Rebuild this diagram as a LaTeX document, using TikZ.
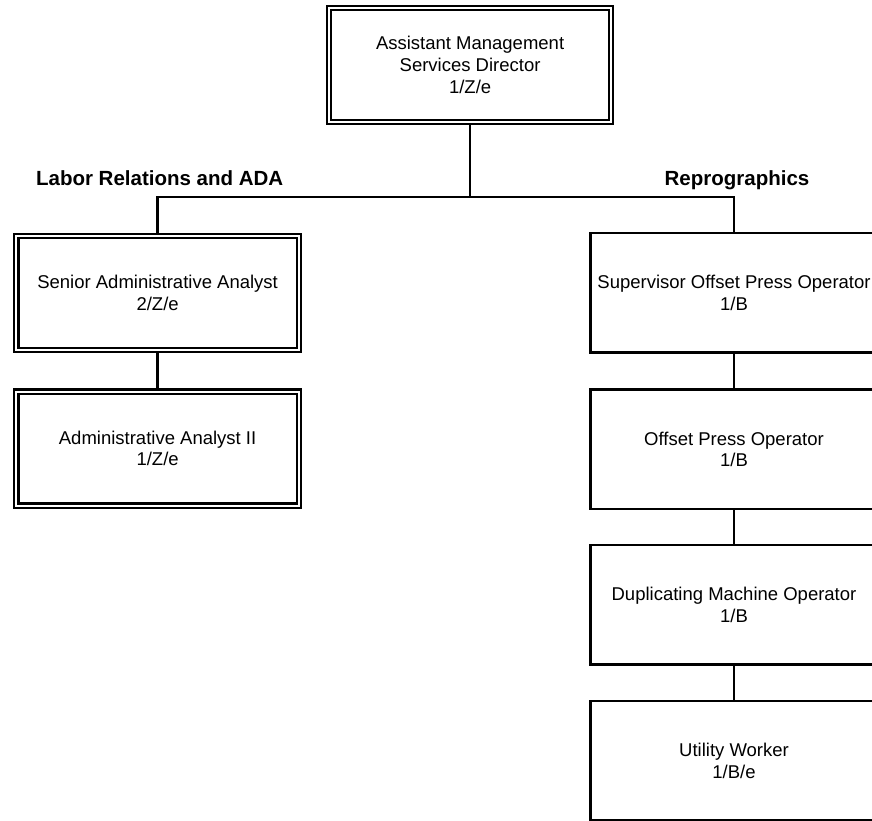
\documentclass[tikz,border=0pt]{standalone}
\usepackage{fontspec}
\setmainfont{Liberation Sans}
\usetikzlibrary{backgrounds}
\begin{document}
\begin{tikzpicture}[x=1pt,y=-1pt,
  boxtext/.style={font=\fontsize{18.5}{21.7}\selectfont, align=center, inner sep=0pt, outer sep=0pt},
  dblbox/.style={boxtext, draw, line width=2.1pt, double, double distance=2pt, minimum width=282.4pt, minimum height=114pt},
  sglbox/.style={boxtext, draw, line width=2.3pt, minimum width=287pt, minimum height=119.5pt},
  conn/.style={line width=2.3pt},
  grouplabel/.style={font=\bfseries\fontsize{20.5}{24}\selectfont, anchor=base, inner sep=0pt}]
\useasboundingbox (0,0) rectangle (872,820);
\clip (0,0) rectangle (872,820);
% boxes
\node[dblbox] (top) at (470.1,64.8) {Assistant Management\\Services Director\\1/Z/e};
\node[dblbox] (sen) at (157.6,292.6) {Senior Administrative Analyst\\2/Z/e};
\node[dblbox] (aa2) at (157.6,448.5) {Administrative Analyst II\\1/Z/e};
\node[sglbox] (sup) at (734,292.75) {Supervisor Offset Press Operator\\1/B};
\node[sglbox] (opo) at (734,449.25) {Offset Press Operator\\1/B};
\node[sglbox] (dmo) at (734,604.75) {Duplicating Machine Operator\\1/B};
\node[sglbox] (uw) at (734,760.75) {Utility Worker\\1/B/e};
% group labels
\node[grouplabel] (lab) at (159.7,185.5) {Labor Relations and ADA};
\node[grouplabel] (rep) at (737,185.5) {Reprographics};
\coordinate (bus) at (470.1,197);
% connectors
\begin{scope}[on background layer]
\draw[conn] (top.south) -- (bus);
\draw[conn] (sen.north) |- (bus) -| (sup.north);
\draw[conn] (sen.south) -- (aa2.north);
\draw[conn] (sup.south) -- (opo.north);
\draw[conn] (opo.south) -- (dmo.north);
\draw[conn] (dmo.south) -- (uw.north);
\end{scope}
\end{tikzpicture}
\end{document}
